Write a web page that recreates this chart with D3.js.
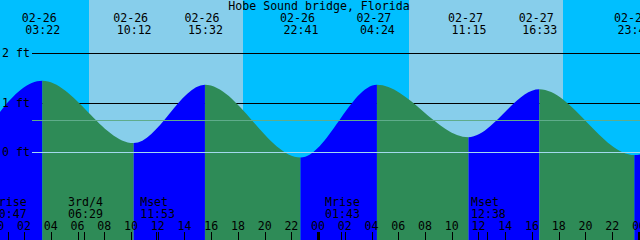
<!DOCTYPE html>
<html>
<head>
<meta charset="utf-8">
<script src="https://cdn.jsdelivr.net/npm/d3@7"></script>
<style>
  body { margin: 0; background: #fff; }
  svg { display: block; }
  text { font-family: "DejaVu Sans Mono", monospace; font-size: 11.6px; fill: #000; }
</style>
</head>
<body>
<div id="chart"></div>
<script>
var width = 640, height = 240;

// tide extremes (first and last lie just outside the window)
var tideTimes = ["2024-02-25 21:50", "2024-02-26 03:22", "2024-02-26 10:12", "2024-02-26 15:32",
                 "2024-02-26 22:41", "2024-02-27 04:24", "2024-02-27 11:15", "2024-02-27 16:33",
                 "2024-02-27 23:40", "2024-02-28 05:20"];
var tideHeights = [-0.15, 1.44, 0.18, 1.36, -0.11, 1.36, 0.30, 1.27, -0.06, 1.30];

var sunrise = ["2024-02-26 06:52", "2024-02-27 06:50"];
var sunset = ["2024-02-26 18:23", "2024-02-27 18:21"];

var moonTimes = ["2024-02-26 00:47", "2024-02-26 06:29", "2024-02-26 11:53", "2024-02-27 01:43", "2024-02-27 12:38"];
var moonLabels = ["Mrise", "3rd/4", "Mset", "Mrise", "Mset"];

var heightTicks = [0, 1, 2];
var meanLevel = 0.64;
var title = "Hobe Sound bridge, Florida";

var parse = d3.utcParse("%Y-%m-%d %H:%M");
var fmtDate = d3.utcFormat("%m-%d"), fmtTime = d3.utcFormat("%H:%M"), fmtHour = d3.utcFormat("%H");

var x = d3.scaleUtc()
    .domain([parse("2024-02-26 00:12"), parse("2024-02-28 00:05")])
    .range([0, width]);
var y = d3.scaleLinear().domain([0, 2]).range([152, 53]);

var tides = tideTimes.map(function(t, i) { return { t: parse(t), h: tideHeights[i] }; });
var shown = tides.filter(function(d) { return x(d.t) > -20 && x(d.t) < width + 20; });

var svg = d3.select("#chart").append("svg")
    .attr("width", width)
    .attr("height", height);

// night / day background
svg.append("rect").attr("width", width).attr("height", height).attr("fill", "#00bfff");
sunrise.forEach(function(r, i) {
    svg.append("rect")
        .attr("x", x(parse(r)))
        .attr("width", x(parse(sunset[i])) - x(parse(r)))
        .attr("y", 0).attr("height", height)
        .attr("fill", "#87ceeb")
        .attr("shape-rendering", "crispEdges");
});

// 1 ft and 2 ft lines sit under the water
heightTicks.filter(function(d) { return d > 0; }).forEach(function(d) {
    svg.append("line")
        .attr("x1", 32).attr("x2", width)
        .attr("y1", Math.round(y(d)) + 0.5).attr("y2", Math.round(y(d)) + 0.5)
        .attr("stroke", "#000");
});

var area = d3.area()
    .x(function(d) { return x(d.t); })
    .y0(height)
    .y1(function(d) { return y(d.h); })
    .curve(d3.curveMonotoneX);

svg.append("clipPath").attr("id", "water")
    .append("path").attr("d", area(tides));

var water = svg.append("g").attr("clip-path", "url(#water)");
for (var i = 0; i < tides.length - 1; i++) {
    var rising = tides[i + 1].h > tides[i].h;
    water.append("rect")
        .attr("x", x(tides[i].t))
        .attr("width", x(tides[i + 1].t) - x(tides[i].t))
        .attr("y", 0).attr("height", height)
        .attr("fill", rising ? "#0000ff" : "#2e8b57");
}

// mean level and datum lines drawn over the water
svg.append("line")
    .attr("x1", 32).attr("x2", width)
    .attr("y1", Math.round(y(meanLevel)) + 0.5).attr("y2", Math.round(y(meanLevel)) + 0.5)
    .attr("stroke", "#5fac8b");
svg.append("line")
    .attr("x1", 32).attr("x2", width)
    .attr("y1", Math.round(y(0)) + 0.5).attr("y2", Math.round(y(0)) + 0.5)
    .attr("stroke", "#a3d9ee");

// height labels
svg.selectAll(".ylab")
    .data(heightTicks)
    .enter().append("text")
    .attr("x", 2)
    .attr("y", function(d) { return Math.round(y(d)) + 4; })
    .text(function(d) { return d + " ft"; });

// title
svg.append("text")
    .attr("x", 319).attr("y", 10)
    .style("text-anchor", "middle")
    .text(title);

// tide event labels
svg.selectAll(".tdate")
    .data(shown)
    .enter().append("text")
    .attr("x", function(d) { return x(d.t) - 3; })
    .attr("y", 22)
    .style("text-anchor", "middle")
    .text(function(d) { return fmtDate(d.t); });
svg.selectAll(".ttime")
    .data(shown)
    .enter().append("text")
    .attr("x", function(d) { return x(d.t) + 0.5; })
    .attr("y", 34)
    .style("text-anchor", "middle")
    .text(function(d) { return fmtTime(d.t); });

// moon events
var moon = moonTimes.map(function(t, i) { return { t: parse(t), label: moonLabels[i] }; });
svg.selectAll(".mlab")
    .data(moon)
    .enter().append("text")
    .attr("x", function(d) { return x(d.t) - 16; })
    .attr("y", 206)
    .text(function(d) { return d.label; });
svg.selectAll(".mtime")
    .data(moon)
    .enter().append("text")
    .attr("x", function(d) { return x(d.t) - 16; })
    .attr("y", 218)
    .text(function(d) { return fmtTime(d.t); });
svg.selectAll(".mtick")
    .data(moon)
    .enter().append("line")
    .attr("x1", function(d) { return Math.round(x(d.t)) + 0.5; })
    .attr("x2", function(d) { return Math.round(x(d.t)) + 0.5; })
    .attr("y1", 232).attr("y2", height)
    .attr("stroke", "#000");

// hour axis along the bottom
var hours = d3.utcHour.every(2).range(parse("2024-02-26 00:00"), parse("2024-02-28 00:01"));
svg.selectAll(".hlab")
    .data(hours)
    .enter().append("text")
    .attr("x", function(d) { return x(d); })
    .attr("y", 230)
    .style("text-anchor", "middle")
    .text(function(d) { return fmtHour(d); });
svg.selectAll(".htick")
    .data(hours)
    .enter().append("line")
    .attr("x1", function(d) { return Math.round(x(d)) + 0.5; })
    .attr("x2", function(d) { return Math.round(x(d)) + 0.5; })
    .attr("y1", 232).attr("y2", height)
    .attr("stroke", "#000")
    .attr("stroke-width", function(d) { return d.getUTCHours() === 0 ? 3 : 1; });
</script>
</body>
</html>
